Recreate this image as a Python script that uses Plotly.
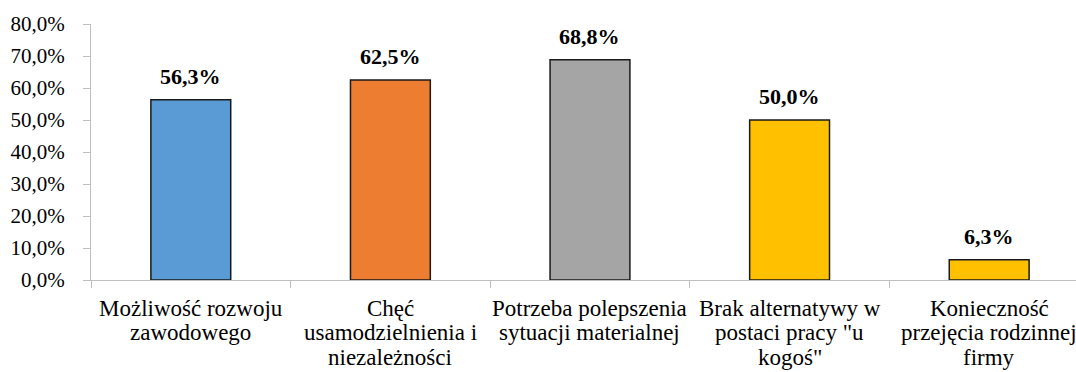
import plotly.graph_objects as go

# Motives for starting a business (share of respondents, %)
categories = [
    "Możliwość rozwoju zawodowego",
    "Chęć usamodzielnienia i niezależności",
    "Potrzeba polepszenia sytuacji materialnej",
    "Brak alternatywy w postaci pracy \"u kogoś\"",
    "Konieczność przejęcia rodzinnej firmy",
]
# Wrapped form of each category label, one entry per printed line
category_lines = [
    ["Możliwość rozwoju", "zawodowego"],
    ["Chęć", "usamodzielnienia i", "niezależności"],
    ["Potrzeba polepszenia", "sytuacji materialnej"],
    ["Brak alternatywy w", "postaci pracy \"u", "kogoś\""],
    ["Konieczność", "przejęcia rodzinnej", "firmy"],
]
values = [56.3, 62.5, 68.8, 50.0, 6.3]
bar_colors = ["#5B9BD5", "#ED7D31", "#A5A5A5", "#FFC000", "#FFC000"]
y_ticks = [0, 10, 20, 30, 40, 50, 60, 70, 80]
y_tick_labels = [f"{v:.1f}%".replace(".", ",") for v in y_ticks]

FONT = "Liberation Serif"
AXIS_GREY = "#BFBFBF"
LABEL_SIZE = 23
LINE_STEP = 24.3   # tight line spacing for the wrapped category labels

fig = go.Figure(
    go.Bar(
        x=categories,
        y=values,
        marker=dict(color=bar_colors, line=dict(color="#1a1a1a", width=1.5)),
        hoverinfo="skip",
    )
)

# Value labels above each bar
for cat, val in zip(categories, values):
    fig.add_annotation(
        x=cat, y=val,
        text=f"<b>{val:.1f}%</b>".replace(".", ","),
        showarrow=False, yanchor="bottom", yshift=9,
        font=dict(family=FONT, size=22, color="#000000"),
    )

# Category labels under the axis, one annotation per line
for cat, lines in zip(categories, category_lines):
    for i, line in enumerate(lines):
        fig.add_annotation(
            x=cat, xref="x", y=0, yref="paper",
            text=line, showarrow=False,
            xanchor="center", yanchor="middle",
            yshift=-(28.5 + LINE_STEP * i),
            font=dict(family=FONT, size=LABEL_SIZE, color="#000000"),
        )

fig.update_layout(
    width=1076, height=372,
    margin=dict(l=91, r=0, t=24, b=92),
    paper_bgcolor="white", plot_bgcolor="white",
    bargap=0.6,
    showlegend=False,
    font=dict(family=FONT, size=21, color="#000000"),
)

fig.update_xaxes(
    type="category",
    range=[-0.5, 4.435],
    showline=True, linecolor=AXIS_GREY, linewidth=1,
    ticks="outside", tickson="boundaries", ticklen=7, tickcolor=AXIS_GREY,
    showgrid=False, zeroline=False,
    showticklabels=False,
)

fig.update_yaxes(
    range=[0, 80],
    tickvals=y_ticks, ticktext=y_tick_labels,
    showline=True, linecolor=AXIS_GREY, linewidth=1,
    ticks="outside", ticklen=7, tickcolor=AXIS_GREY,
    showgrid=False, zeroline=False,
    tickfont=dict(family=FONT, size=21, color="#000000"),
    ticklabelstandoff=14,
)

fig.write_html("out.html")
